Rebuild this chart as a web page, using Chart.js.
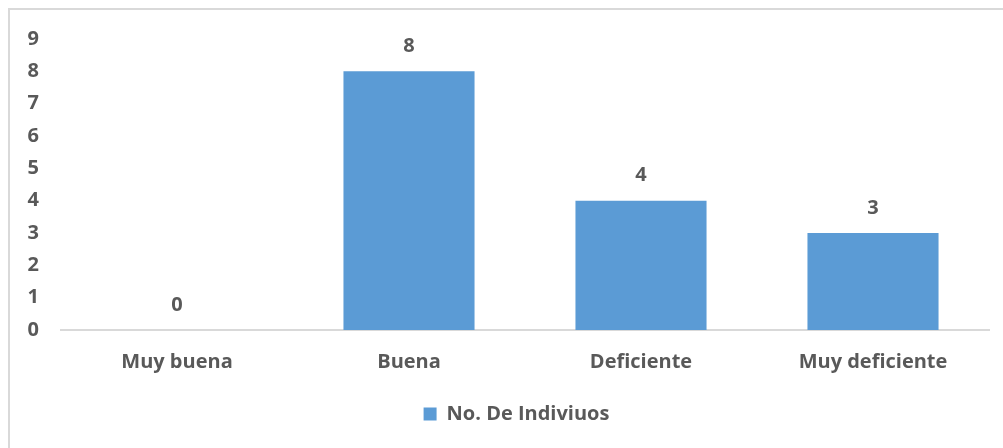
<!DOCTYPE html>
<html>
<head>
<meta charset="utf-8">
<script src="https://cdn.jsdelivr.net/npm/chart.js@4"></script>
<style>
  body { margin: 0; background: #fff; }
  #frame { position: absolute; left: 8px; top: 8px; width: 1010px; height: 460px; border: 2px solid #d9d9d9; box-sizing: border-box; }
  #wrap { position: absolute; left: 0; top: 0; width: 1003px; height: 448px; }
</style>
</head>
<body>
<div id="frame"></div>
<div id="wrap"><canvas id="chart"></canvas></div>
<script>
const categories = ["Muy buena", "Buena", "Deficiente", "Muy deficiente"];
const individuos = [0, 8, 4, 3];
const yTicks = [0, 1, 2, 3, 4, 5, 6, 7, 8, 9];
const seriesName = "No. De Indiviuos";

const txt = "#595959";
const fnt = { family: "'Open Sans'", weight: "bold", size: 20 };

// labels over bars
const valueLabels = {
  id: "valueLabels",
  afterDatasetsDraw(chart) {
    const ctx = chart.ctx;
    const meta = chart.getDatasetMeta(0);
    ctx.save();
    ctx.fillStyle = txt;
    ctx.font = "bold 20px 'Open Sans'";
    ctx.textAlign = "center";
    ctx.textBaseline = "middle";
    meta.data.forEach((bar, i) => {
      ctx.fillText(String(individuos[i]), bar.x, bar.y - 25);
    });
    ctx.restore();
  }
};

// legend sits a bit right of the plot centre in the original
const legendShift = {
  id: "legendShift",
  afterLayout(chart) {
    chart.legend.left += 22;
    chart.legend.right += 22;
  }
};

new Chart(document.querySelector("#chart"), {
  type: "bar",
  data: {
    labels: categories,
    datasets: [{
      label: seriesName,
      data: individuos,
      backgroundColor: "#5b9bd5",
      categoryPercentage: 1,
      barPercentage: 0.565,
    }],
  },
  options: {
    responsive: true,
    maintainAspectRatio: false,
    animation: false,
    layout: { padding: { top: 39, right: 14, left: 0, bottom: 14 } },
    plugins: {
      tooltip: { enabled: false },
      legend: {
        position: "bottom",
        labels: { color: txt, font: fnt, boxWidth: 13, boxHeight: 13, padding: 10 },
      },
    },
    scales: {
      x: {
        grid: { display: false },
        border: { color: "#d9d9d9", width: 2 },
        ticks: { color: txt, font: fnt, padding: 12 },
        afterFit: s => { s.height = 64; },
      },
      y: {
        min: 0, max: 9,
        grid: { display: false },
        border: { display: false },
        afterBuildTicks: s => { s.ticks = yTicks.map(v => ({ value: v })); },
        ticks: { color: txt, font: fnt, padding: 14 },
        afterFit: s => { s.width = 61; },
      },
    },
  },
  plugins: [valueLabels, legendShift],
});
</script>
</body>
</html>
